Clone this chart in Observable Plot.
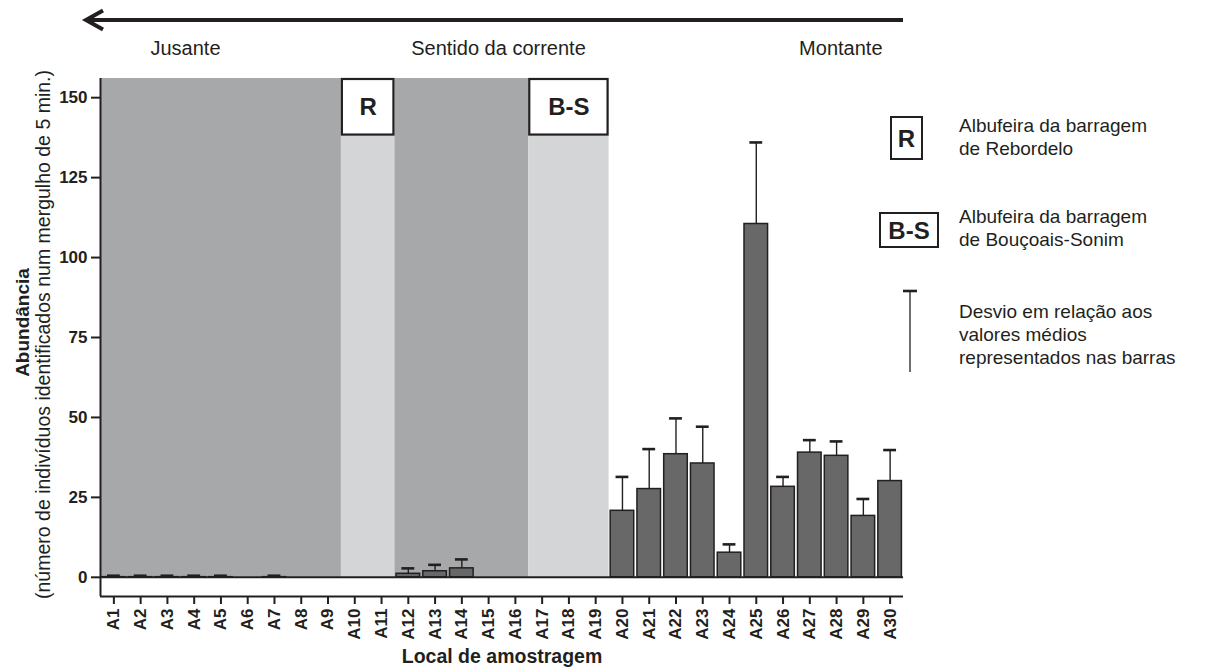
<!DOCTYPE html>
<html><head><meta charset="utf-8">
<script src="https://cdn.jsdelivr.net/npm/d3@7"></script>
<script src="https://cdn.jsdelivr.net/npm/@observablehq/plot@0.6"></script>
<style>
body{margin:0;background:#fff;}
#chart{position:relative;width:1227px;height:668px;}
</style>
</head><body><div id="chart"></div>
<script>
// ---- data ----
const sites = ["A1","A2","A3","A4","A5","A6","A7","A8","A9","A10","A11","A12","A13","A14","A15","A16","A17","A18","A19","A20","A21","A22","A23","A24","A25","A26","A27","A28","A29","A30"];
const means = [0.05,0.05,0.05,0.05,0.05,0,0.05,0,0,0,0,1.1,1.9,2.8,0,0,0,0,0,20.8,27.6,38.5,35.6,7.7,110.5,28.3,39.0,38.0,19.2,30.1];
const deviations = [0.45,0.45,0.45,0.45,0.45,0,0.45,0,0,0,0,1.7,2.0,2.8,0,0,0,0,0,10.6,12.5,11.2,11.5,2.6,25.5,3.1,3.9,4.5,5.3,9.7];
const yTicks = [0,25,50,75,100,125,150];
const zoneStart = ["A1","A10","A12","A17"];
const zoneEnd   = ["A9","A11","A16","A19"];
const zoneKind  = ["rio","albufeira","rio","albufeira"];
const reservoirLabels = ["R","B-S"];
const reservoirStart = ["A10","A17"];
const reservoirEnd   = ["A11","A19"];
const flowLabels = ["Jusante","Sentido da corrente","Montante"];
const yTitle = "Abundância";
const ySubtitle = "(número de indivíduos identificados num mergulho de 5 min.)";
const xTitle = "Local de amostragem";
const legendSymbols = ["R","B-S",""];
const legendTexts = [
  ["Albufeira da barragem","de Rebordelo"],
  ["Albufeira da barragem","de Bouçoais-Sonim"],
  ["Desvio em relação aos","valores médios","representados nas barras"]
];

// ---- build ----
const FONT = "'Liberation Sans', Arial, Helvetica, sans-serif";
const INK = "#231f20";
const pos = s => sites.indexOf(s) + 1;
const data = sites.map((s,k)=>({site:s,pos:k+1,mean:means[k],top:means[k]+deviations[k]}));
const zones = zoneStart.map((s,k)=>({x1:pos(s)-0.5,x2:pos(zoneEnd[k])+0.5,kind:zoneKind[k]}));
const reservoirs = reservoirLabels.map((l,k)=>({label:l,x1:pos(reservoirStart[k])-0.5,x2:pos(reservoirEnd[k])+0.5}));
const Y_TOP = 156, Y_BOTTOM = -6, BOX_BOTTOM = 138;
const bars = data.filter(d=>d.mean>0);
const errs = data.filter(d=>d.top>d.mean);

const plot = Plot.plot({
  width:1227, height:668,
  marginLeft:100, marginRight:324, marginTop:78, marginBottom:72,
  style:{fontFamily:FONT, fontSize:"17px", color:INK, background:"#fff", overflow:"visible"},
  x:{type:"linear", domain:[0.5, sites.length+0.5]},
  y:{domain:[Y_BOTTOM, Y_TOP]},
  color:{domain:["rio","albufeira"], range:["#a7a8aa","#d4d5d7"]},
  marks:[
    Plot.rect(zones,{x1:"x1",x2:"x2",y1:0,y2:Y_TOP,fill:"kind"}),
    Plot.rect(reservoirs,{x1:"x1",x2:"x2",y1:BOX_BOTTOM,y2:Y_TOP,fill:"white",stroke:INK,strokeWidth:2.2,inset:1}),
    Plot.text(reservoirs,{x:d=>(d.x1+d.x2)/2,y:(BOX_BOTTOM+Y_TOP)/2,text:"label",fontSize:24,fontWeight:"bold",fill:INK}),
    Plot.rect(bars,{x1:d=>d.pos-0.5,x2:d=>d.pos+0.5,y1:0,y2:"mean",fill:"#686868",stroke:INK,strokeWidth:1.5,insetLeft:1.6,insetRight:1.6}),
    Plot.ruleX(errs,{x:"pos",y1:"mean",y2:"top",stroke:INK,strokeWidth:1.4}),
    Plot.ruleY(errs,{y:"top",x1:d=>d.pos-0.24,x2:d=>d.pos+0.24,stroke:INK,strokeWidth:2.6}),
    Plot.ruleY([0],{stroke:INK,strokeWidth:2}),
    Plot.ruleY([Y_BOTTOM],{stroke:INK,strokeWidth:2}),
    Plot.ruleX([0.5],{stroke:INK,strokeWidth:2}),
    Plot.axisY({ticks:yTicks,tickSize:9,tickPadding:4,fontWeight:"bold",fontSize:17,strokeWidth:2,stroke:INK,fill:INK,label:null}),
    Plot.axisX({ticks:sites.map((s,k)=>k+1),tickFormat:i=>sites[i-1],tickRotate:-90,tickSize:8,tickPadding:4,fontWeight:"bold",fontSize:17,strokeWidth:2,stroke:INK,fill:INK,label:null}),
    Plot.text([yTitle],{frameAnchor:"left",dx:-72,dy:-15,rotate:-90,textAnchor:"middle",lineAnchor:"bottom",fontWeight:"bold",fontSize:19,fill:INK}),
    Plot.text([ySubtitle],{frameAnchor:"left",dx:-51,dy:-3,rotate:-90,textAnchor:"middle",lineAnchor:"bottom",fontSize:19.5,fill:INK}),
    Plot.text([xTitle],{frameAnchor:"bottom",dy:66,lineAnchor:"bottom",fontWeight:"bold",fontSize:19.5,fill:INK}),
    Plot.text([flowLabels[0]],{frameAnchor:"top-left",dx:50,dy:-24,lineAnchor:"bottom",textAnchor:"start",fontSize:20,fill:INK}),
    Plot.text([flowLabels[1]],{frameAnchor:"top-left",dx:398,dy:-24,lineAnchor:"bottom",textAnchor:"middle",fontSize:20,fill:INK}),
    Plot.text([flowLabels[2]],{frameAnchor:"top-left",dx:782,dy:-24,lineAnchor:"bottom",textAnchor:"end",fontSize:20,fill:INK})
  ]
});
document.getElementById("chart").appendChild(plot);

// ---- annotations: flow arrow + legend ----
const svg = d3.select(plot);
const arrow = svg.append("g").attr("stroke",INK).attr("stroke-width",4).attr("fill","none").attr("stroke-linecap","butt");
arrow.append("line").attr("x1",903).attr("x2",87).attr("y1",20).attr("y2",20);
arrow.append("path").attr("d","M103,10.5 L86,20 L103,29.5").attr("stroke-linejoin","miter");

const lg = svg.append("g").attr("font-family",FONT).attr("fill",INK).attr("text-anchor","start");
// R box
lg.append("rect").attr("x",891).attr("y",117).attr("width",31).attr("height",42).attr("fill","#fff").attr("stroke",INK).attr("stroke-width",2);
lg.append("text").attr("x",906.5).attr("y",147).attr("text-anchor","middle").attr("font-size",24).attr("font-weight","bold").text(legendSymbols[0]);
// B-S box
lg.append("rect").attr("x",880).attr("y",213).attr("width",58).attr("height",34).attr("fill","#fff").attr("stroke",INK).attr("stroke-width",2);
lg.append("text").attr("x",909).attr("y",238.5).attr("text-anchor","middle").attr("font-size",24).attr("font-weight","bold").text(legendSymbols[1]);
// error bar symbol
lg.append("line").attr("x1",910).attr("x2",910).attr("y1",291).attr("y2",372).attr("stroke",INK).attr("stroke-width",1.3);
lg.append("line").attr("x1",903).attr("x2",917).attr("y1",291).attr("y2",291).attr("stroke",INK).attr("stroke-width",2.6);
const firstBaselines = [132,223,318];
legendTexts.forEach((lines,k)=>{
  lines.forEach((t,j)=>{
    lg.append("text").attr("x",959).attr("y",firstBaselines[k]+j*23).attr("text-anchor","start").attr("font-size",19).text(t);
  });
});
</script>
</body></html>
